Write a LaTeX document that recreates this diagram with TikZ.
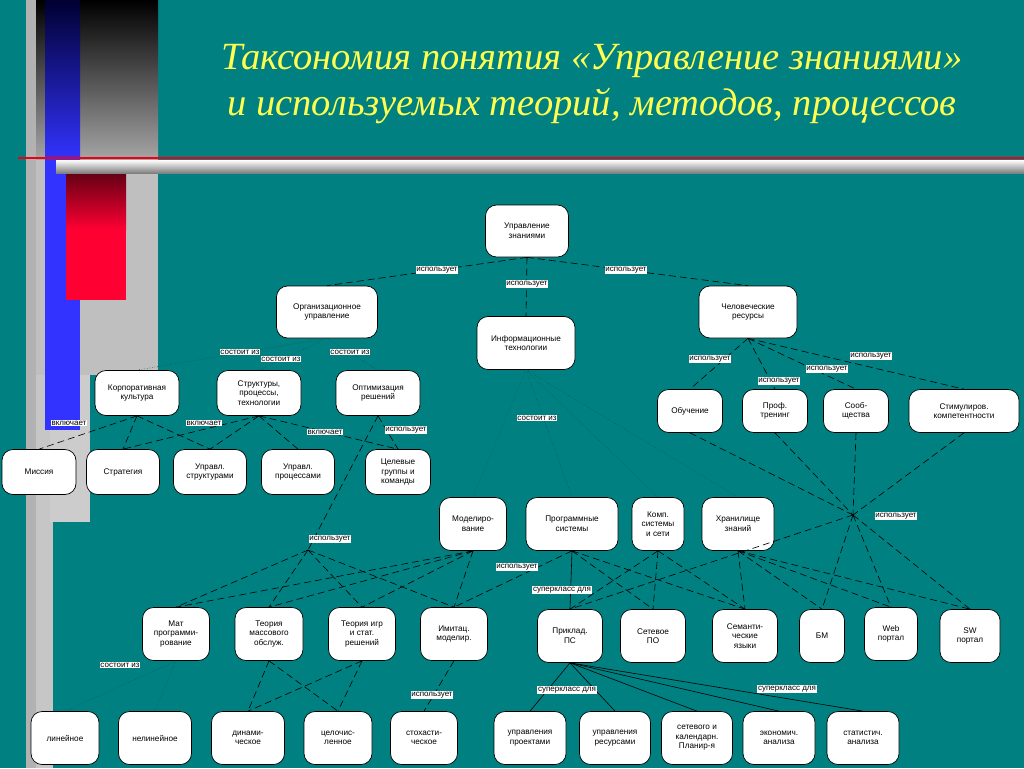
\documentclass[tikz,border=0pt]{standalone}
\usepackage{fontspec}
\setmainfont{Liberation Sans}
\newfontfamily\titlefont{Liberation Serif}
\definecolor{brred}{RGB}{255,0,51}
\definecolor{dkred}{RGB}{100,0,20}
\definecolor{brblue}{RGB}{51,51,255}
\definecolor{dkblue}{RGB}{0,0,50}
\definecolor{ttl}{RGB}{255,255,80}
\begin{document}
\begin{tikzpicture}[x=1pt,y=-1pt,
  bx/.style={draw=black,fill=white,rounded corners=11pt,align=center,font=\fontsize{8.2}{9.6}\selectfont,inner sep=1pt,line width=0.7pt},
  lb/.style={fill=white,font=\fontsize{8}{9}\selectfont,inner sep=0.6pt},
  dsh/.style={draw=black,dash pattern=on 7pt off 4pt,line width=0.6pt},
  sol/.style={draw=black,line width=0.6pt},
  fnt/.style={draw=black!30!teal,dotted,line width=0.6pt}]
\useasboundingbox (0,0) rectangle (1024,768);
\fill[teal] (0,0) rectangle (1024,768);
% decoration
\shade[top color=black,bottom color=gray!70] (26,0) rectangle (158,160);
\fill[gray!50] (26,160) rectangle (158,375);
\fill[gray!60] (26,0) rectangle (36,768);
\fill[gray!45] (36,375) rectangle (53,768);
\fill[gray!40] (50,375) rectangle (90,522);
\shade[top color=dkblue,bottom color=brblue] (45,0) rectangle (80,160);
\fill[brblue] (45,160) rectangle (80,430);
\shade[top color=dkred,bottom color=brred] (66,173) rectangle (126,230);
\fill[brred] (66,230) rectangle (126,300);
\draw[line width=1.5pt,red!70!purple] (18,158) -- (1024,158);
\shade[top color=white,bottom color=gray] (56,160) rectangle (1024,173);
% title
\node[text=ttl,font=\titlefont\itshape\fontsize{38.5}{46}\selectfont,align=center] (title) at (592,84) {Таксономия понятия «Управление знаниями»\\и используемых теорий, методов, процессов};
% nodes
\node[bx,minimum width=83pt,minimum height=52pt] (uz) at (527,231) {Управление\\знаниями};
\node[bx,minimum width=101pt,minimum height=52pt] (org) at (327,312) {Организационное\\управление};
\node[bx,minimum width=98pt,minimum height=53pt] (it) at (526,343) {Информационные\\технологии};
\node[bx,minimum width=98pt,minimum height=52pt] (hr) at (748,312) {Человеческие\\ресурсы};
\node[bx,minimum width=84pt,minimum height=45pt] (kk) at (137,393) {Корпоративная\\культура};
\node[bx,minimum width=84pt,minimum height=45pt] (spt) at (259,393) {Структуры,\\процессы,\\технологии};
\node[bx,minimum width=84pt,minimum height=45pt] (opt) at (378,393) {Оптимизация\\решений};
\node[bx,minimum width=74pt,minimum height=45pt] (mis) at (39,472) {Миссия};
\node[bx,minimum width=73pt,minimum height=45pt] (str) at (123,472) {Стратегия};
\node[bx,minimum width=73pt,minimum height=45pt] (ust) at (210,472) {Управл.\\структурами};
\node[bx,minimum width=73pt,minimum height=45pt] (upr) at (298,472) {Управл.\\процессами};
\node[bx,minimum width=65pt,minimum height=45pt] (cel) at (398,472) {Целевые\\группы и\\команды};
\node[bx,minimum width=65pt,minimum height=43pt] (obu) at (690,411) {Обучение};
\node[bx,minimum width=65pt,minimum height=43pt] (pro) at (775,411) {Проф.\\тренинг};
\node[bx,minimum width=65pt,minimum height=43pt] (soo) at (856,411) {Сооб-\\щества};
\node[bx,minimum width=110pt,minimum height=43pt] (sti) at (964,411) {Стимулиров.\\компетентности};
\node[bx,minimum width=67pt,minimum height=53pt] (mod) at (473,524) {Моделиро-\\вание};
\node[bx,minimum width=92pt,minimum height=53pt] (prs) at (572,524) {Программные\\системы};
\node[bx,minimum width=52pt,minimum height=53pt] (kom) at (658,524) {Комп.\\системы\\и сети};
\node[bx,minimum width=72pt,minimum height=53pt] (hrn) at (738,524) {Хранилище\\знаний};
\coordinate (star) at (853,515);
\coordinate (j1) at (308,550);
\node[bx,minimum width=67pt,minimum height=53pt] (mat) at (176,634) {Мат\\программи-\\рование};
\node[bx,minimum width=68pt,minimum height=53pt] (tmo) at (269,634) {Теория\\массового\\обслуж.};
\node[bx,minimum width=67pt,minimum height=53pt] (tig) at (362,634) {Теория игр\\и стат.\\решений};
\node[bx,minimum width=67pt,minimum height=53pt] (imi) at (454,634) {Имитац.\\моделир.};
\node[bx,minimum width=65pt,minimum height=53pt] (pri) at (570,636) {Приклад.\\ПС};
\node[bx,minimum width=65pt,minimum height=53pt] (set) at (653,636) {Сетевое\\ПО};
\node[bx,minimum width=65pt,minimum height=53pt] (sem) at (745,636) {Семанти-\\ческие\\языки};
\node[bx,minimum width=45pt,minimum height=53pt] (bm) at (822,636) {БМ};
\node[bx,minimum width=53pt,minimum height=53pt] (web) at (891,634) {Web\\портал};
\node[bx,minimum width=60pt,minimum height=53pt] (sw) at (970,636) {SW\\портал};
\node[bx,minimum width=68pt,minimum height=53pt] (lin) at (65,738) {линейное};
\node[bx,minimum width=73pt,minimum height=53pt] (nel) at (155,738) {нелинейное};
\node[bx,minimum width=73pt,minimum height=53pt] (din) at (248,738) {динами-\\ческое};
\node[bx,minimum width=68pt,minimum height=53pt] (cch) at (338,738) {целочис-\\ленное};
\node[bx,minimum width=67pt,minimum height=53pt] (sto) at (424,738) {стохасти-\\ческое};
\node[bx,minimum width=72pt,minimum height=53pt] (upp) at (530,738) {управления\\проектами};
\node[bx,minimum width=71pt,minimum height=53pt] (upres) at (615,738) {управления\\ресурсами};
\node[bx,minimum width=71pt,minimum height=53pt] (skp) at (697,738) {сетевого и\\календарн.\\Планир-я};
\node[bx,minimum width=72pt,minimum height=53pt] (eco) at (779,738) {экономич.\\анализа};
\node[bx,minimum width=72pt,minimum height=53pt] (sta) at (863,738) {статистич.\\анализа};
% connectors
\draw[dsh] (uz.south) -- (org.north);
\draw[dsh] (uz.south) -- (it.north);
\draw[dsh] (uz.south) -- (hr.north);
\draw[fnt] (org.south) -- (kk.north);
\draw[fnt] (org.south) -- (spt.north);
\draw[fnt] (org.south) -- (opt.north);
\foreach \c in {mis,str,ust} \draw[dsh] (kk.south) -- (\c.north);
\foreach \c in {str,ust,upr,cel} \draw[dsh] (spt.south) -- (\c.north);
\draw[dsh] (opt.south) -- (cel.north);
\draw[dsh] (opt.south) -- (j1);
\foreach \c in {mod,prs,kom,hrn} \draw[fnt] (it.south) -- (\c.north);
\foreach \c in {obu,pro,soo,sti} \draw[dsh] (hr.south) -- (\c.north);
\foreach \c in {obu,pro,soo,sti} \draw[dsh] (\c.south) -- (star);
\foreach \c in {pri,bm,web,sw} \draw[dsh] (star) -- (\c.north);
\draw[sol] (prs.south) -- (pri.north);
\foreach \c in {set,sem,imi} \draw[dsh] (prs.south) -- (\c.north);
\foreach \c in {pri,set,sem} \draw[dsh] (kom.south) -- (\c.north);
\foreach \c in {sem,bm,web,sw} \draw[dsh] (hrn.south) -- (\c.north);
\foreach \c in {mat,tmo,tig,imi} \draw[dsh] (mod.south) -- (\c.north);
\foreach \c in {mat,tmo,tig,imi} \draw[dsh] (j1) -- (\c.north);
\draw[fnt] (mat.south) -- (lin.north);
\draw[fnt] (mat.south) -- (nel.north);
\foreach \c in {din,cch} {\draw[dsh] (tmo.south) -- (\c.north); \draw[dsh] (tig.south) -- (\c.north);}
\draw[dsh] (imi.south) -- (sto.north);
\foreach \c in {upp,upres,skp,eco,sta} \draw[sol] (pri.south) -- (\c.north);
% labels
\node[lb] (l1) at (437,270) {использует};
\node[lb] (l2) at (527,284) {использует};
\node[lb] (l3) at (626,270) {использует};
\node[lb] (l4) at (240,352) {состоит из};
\node[lb] (l5) at (281,359) {состоит из};
\node[lb] (l6) at (350,352) {состоит из};
\node[lb] (l7) at (69,423) {включает};
\node[lb] (l8) at (204,423) {включает};
\node[lb] (l9) at (325,432) {включает};
\node[lb] (l10) at (406,430) {использует};
\node[lb] (l11) at (537,418) {состоит из};
\node[lb] (l12) at (710,359) {использует};
\node[lb] (l13) at (779,381) {использует};
\node[lb] (l14) at (827,369) {использует};
\node[lb] (l15) at (871,356) {использует};
\node[lb] (l16) at (896,516) {использует};
\node[lb] (l17) at (330,539) {использует};
\node[lb] (l18) at (517,567) {использует};
\node[lb] (l19) at (562,590) {суперкласс для};
\node[lb] (l20) at (120,665) {состоит из};
\node[lb] (l21) at (432,695) {использует};
\node[lb] (l22) at (567,690) {суперкласс для};
\node[lb] (l23) at (787,689) {суперкласс для};
\end{tikzpicture}
\end{document}
